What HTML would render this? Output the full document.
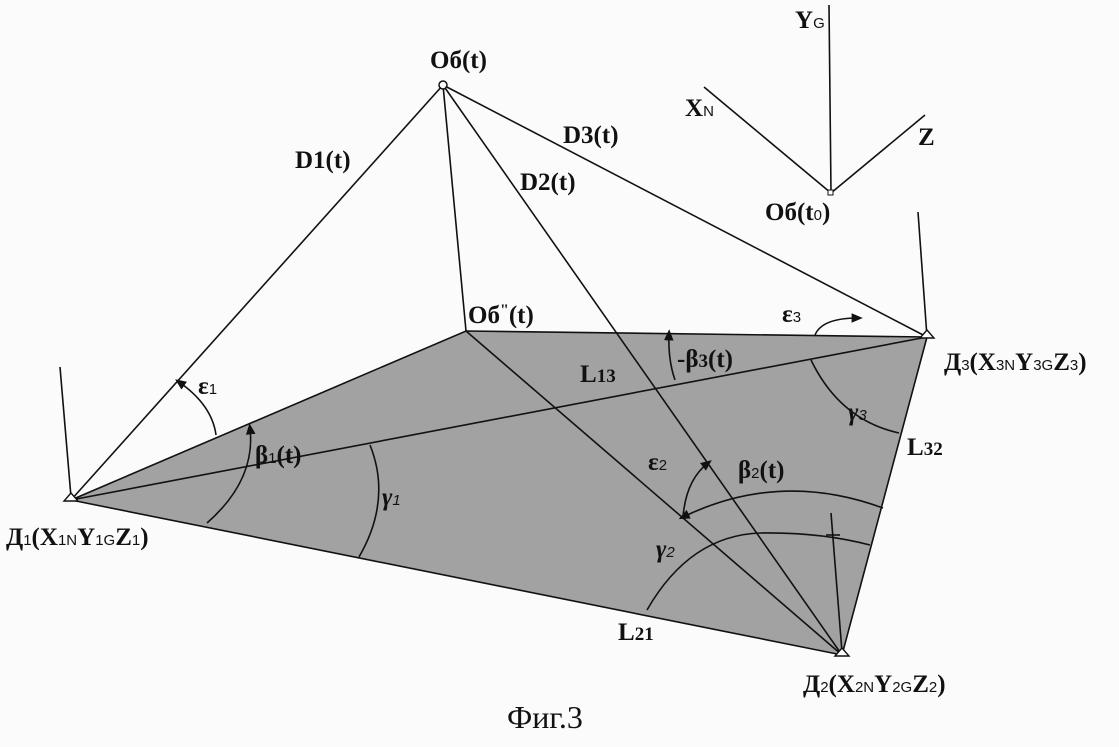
<!DOCTYPE html>
<html><head><meta charset="utf-8"><style>
html,body{margin:0;padding:0;background:#fbfbfb;}
svg{display:block}
text{font-family:"Liberation Serif",serif;font-weight:bold;font-size:25px;fill:#111}
.s{font-family:"Liberation Sans",sans-serif;font-weight:normal;font-size:15px}
</style></head><body>
<svg width="1119" height="747" viewBox="0 0 1119 747" xmlns="http://www.w3.org/2000/svg">
<defs><marker id="a" markerWidth="8" markerHeight="8" refX="4" refY="4" orient="auto-start-reverse"><path d="M0,1 L7,4 L0,7 z" fill="#111"/></marker></defs>
<polygon points="71,500 466,331 927,337 842,655" fill="#a2a2a2" stroke="#111" stroke-width="1.6"/>
<g stroke="#111" stroke-width="1.6" fill="none">
<line x1="443" y1="85" x2="71" y2="500"/>
<line x1="443" y1="85" x2="842" y2="655"/>
<line x1="443" y1="85" x2="927" y2="337"/>
<line x1="443" y1="85" x2="466" y2="331"/>
<line x1="71" y1="500" x2="927" y2="337"/>
<line x1="466" y1="331" x2="842" y2="655"/>
<line x1="60" y1="367" x2="71" y2="497"/>
<line x1="918" y1="212" x2="927" y2="337"/>
<line x1="831" y1="513" x2="842" y2="652"/>
<line x1="831" y1="193" x2="829" y2="5"/>
<line x1="831" y1="193" x2="704" y2="87"/>
<line x1="831" y1="193" x2="925" y2="115"/>
<path d="M179,382 Q212,405 216,435" marker-start="url(#a)"/>
<path d="M250,428 Q256,480 207,523" marker-start="url(#a)"/>
<path d="M370,445 Q392,500 359,557"/>
<path d="M858,318 Q822,318 815,335" marker-start="url(#a)"/>
<path d="M669,334 Q668,360 675,380" marker-start="url(#a)"/>
<path d="M811,360 Q840,420 899,433"/>
<path d="M683,517 Q780,470 883,508" marker-start="url(#a)"/>
<path d="M683,517 Q686,480 708,463" marker-end="url(#a)"/>
<path d="M647,610 Q690,535 761,533 Q820,532 870,545"/>
<line x1="826" y1="535" x2="840" y2="535"/>
</g>
<circle cx="443" cy="85" r="4" fill="#fff" stroke="#111" stroke-width="1.5"/>
<rect x="828" y="190" width="5" height="5" fill="#fff" stroke="#111"/>
<g fill="#fff" stroke="#111" stroke-width="1.4">
<polygon points="71,493 64,501 78,501"/>
<polygon points="927,330 920,338 934,338"/>
<polygon points="842,648 835,656 849,656"/>
</g>
<text x="430" y="68">Об(t)</text>
<text x="295" y="168">D1(t)</text>
<text x="563" y="143">D3(t)</text>
<text x="520" y="190">D2(t)</text>
<text x="765" y="220">Об(t<tspan class="s">0</tspan>)</text>
<text x="468" y="323">Об<tspan dy="-8" font-size="16">"</tspan><tspan dy="8">(t)</tspan></text>
<text x="782" y="322">ε<tspan class="s">3</tspan></text>
<text x="198" y="394">ε<tspan class="s">1</tspan></text>
<text x="255" y="463">β<tspan class="s">1</tspan>(t)</text>
<text x="382" y="505" font-style="italic">γ<tspan class="s">1</tspan></text>
<text x="580" y="382">L<tspan font-size="19">13</tspan></text>
<text x="677" y="367">-β<tspan font-size="19">3</tspan>(t)</text>
<text x="848" y="420" font-style="italic">γ<tspan class="s">3</tspan></text>
<text x="907" y="455">L<tspan font-size="19">32</tspan></text>
<text x="648" y="470">ε<tspan class="s">2</tspan></text>
<text x="738" y="478">β<tspan class="s">2</tspan>(t)</text>
<text x="656" y="557" font-style="italic">γ<tspan class="s">2</tspan></text>
<text x="618" y="640">L<tspan font-size="19">21</tspan></text>
<text x="6" y="545">Д<tspan class="s">1</tspan>(X<tspan class="s">1N</tspan>Y<tspan class="s">1G</tspan>Z<tspan class="s">1</tspan>)</text>
<text x="944" y="370">Д<tspan class="s">3</tspan>(X<tspan class="s">3N</tspan>Y<tspan class="s">3G</tspan>Z<tspan class="s">3</tspan>)</text>
<text x="803" y="692">Д<tspan class="s">2</tspan>(X<tspan class="s">2N</tspan>Y<tspan class="s">2G</tspan>Z<tspan class="s">2</tspan>)</text>
<text x="685" y="116">X<tspan class="s">N</tspan></text>
<text x="795" y="28">Y<tspan class="s">G</tspan></text>
<text x="918" y="145">Z</text>
<text x="507" y="728" style="font-weight:normal;font-size:32px">Фиг.3</text>
</svg>
</body></html>
